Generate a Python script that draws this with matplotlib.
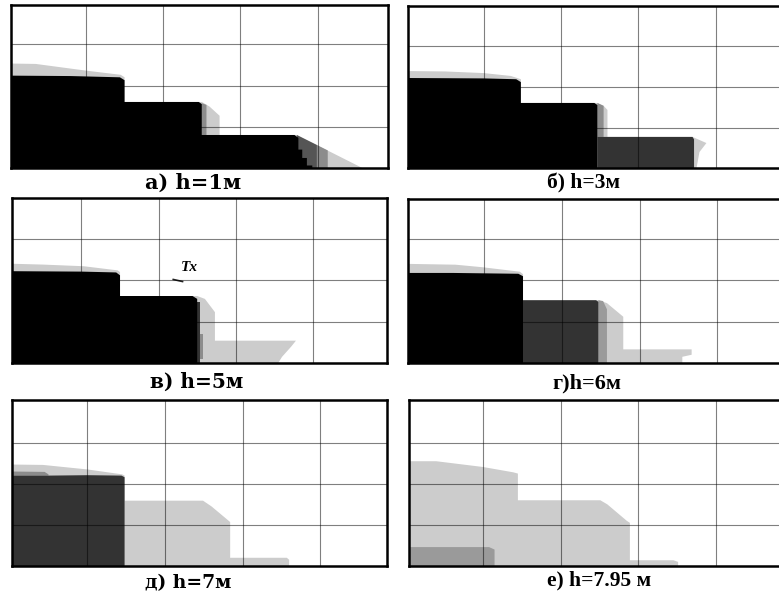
import matplotlib
matplotlib.use("Agg")
import matplotlib.pyplot as plt

# panel captions
LABELS = ["а) h=1м", "б) h=3м", "в) h=5м", "г)h=6м", "д) h=7м", "е) h=7.95 м"]

# coverage zones, outline points in grid cells (x = column, y = row)
# --- a) h=1m
A_LIGHT = [(0, 0), (0, 2.53), (0.35, 2.52), (1.0, 2.36), (1.45, 2.26), (1.5, 2.2),
           (1.5, 1.61), (2.5, 1.61), (2.6, 1.5), (2.73, 1.28), (2.73, 0.82),
           (3.73, 0.82), (4.61, 0)]
A_DARK = [(3.73, 0), (3.73, 0.82), (3.99, 0.58), (3.99, 0)]
A_MID = [(3.99, 0), (3.99, 0.58), (4.13, 0.45), (4.13, 0)]
A_STRIP = [(2.5, 0.82), (2.5, 1.58), (2.56, 1.54), (2.56, 0.82)]
A_BLACK = [(0, 0), (0, 2.24), (0.8, 2.23), (1.44, 2.2), (1.5, 2.13), (1.5, 1.61),
           (2.46, 1.61), (2.5, 1.56), (2.5, 0.82), (3.7, 0.82), (3.75, 0.75),
           (3.75, 0.47), (3.8, 0.47), (3.8, 0.27), (3.86, 0.27), (3.86, 0.09),
           (3.93, 0.09), (3.93, 0)]

# --- б) h=3m
B_LIGHT = [(0, 0), (0, 2.39), (0.5, 2.38), (1.0, 2.34), (1.35, 2.27), (1.48, 2.19),
           (1.48, 1.61), (2.47, 1.61), (2.55, 1.54), (2.6, 1.44), (2.6, 0.78),
           (3.7, 0.78), (3.88, 0.63), (3.79, 0.41), (3.75, 0)]
B_STRIP = [(2.47, 0.78), (2.47, 1.61), (2.55, 1.54), (2.55, 0.78)]
B_DARK = [(2.47, 0), (2.47, 0.78), (3.7, 0.78), (3.72, 0.72), (3.72, 0)]
B_BLACK = [(0, 0), (0, 2.22), (1.0, 2.21), (1.42, 2.19), (1.48, 2.12),
           (1.48, 1.61), (2.43, 1.61), (2.47, 1.56), (2.47, 0)]

# --- в) h=5m
C_LIGHT = [(0.1, 0), (0.1, 2.4), (0.5, 2.38), (1.03, 2.34), (1.47, 2.24), (1.5, 2.2),
           (1.5, 1.62), (2.5, 1.62), (2.6, 1.55), (2.73, 1.23), (2.73, 0.54),
           (3.78, 0.54), (3.72, 0.4), (3.6, 0.15), (3.55, 0)]
C_DARK = [(2.47, 0), (2.47, 1.47), (2.54, 1.47), (2.54, 0)]
C_MID = [(2.54, 0.1), (2.54, 0.7), (2.58, 0.7), (2.58, 0.1)]
C_BLACK = [(0.1, 0), (0.1, 2.22), (1.0, 2.21), (1.45, 2.19), (1.5, 2.12),
           (1.5, 1.62), (2.44, 1.62), (2.5, 1.55), (2.5, 0)]
TX_POS = (2.4, 2.31)
TX_MARK_X = [2.19, 2.31]
TX_MARK_Y = [2.02, 1.97]

# --- г) h=6m
D_LIGHT = [(0, 0), (0, 2.4), (0.63, 2.38), (0.97, 2.32), (1.46, 2.21), (1.5, 2.15),
           (1.5, 1.52), (2.47, 1.52), (2.58, 1.45), (2.79, 1.12), (2.79, 0.33),
           (3.67, 0.33), (3.67, 0.2), (3.55, 0.15), (3.55, 0)]
D_MID = [(2.47, 0), (2.47, 1.52), (2.53, 1.5), (2.58, 1.3), (2.58, 0)]
D_DARK = [(1.5, 0), (1.5, 1.52), (2.44, 1.52), (2.47, 1.48), (2.47, 0)]
D_BLACK = [(0, 0), (0, 2.18), (0.6, 2.18), (1.44, 2.16), (1.5, 2.1), (1.5, 0)]

# --- д) h=7m
E_LIGHT = [(0, 0), (0, 2.47), (0.43, 2.46), (1.0, 2.35), (1.45, 2.23), (1.48, 2.2),
           (1.48, 1.59), (2.49, 1.59), (2.6, 1.45), (2.84, 1.07), (2.84, 0.2),
           (3.57, 0.2), (3.6, 0.15), (3.6, 0)]
E_CAPMID = [(0, 2.2), (0, 2.3), (0.45, 2.29), (0.5, 2.23), (0.5, 2.2)]
E_DARK = [(0, 0), (0, 2.2), (0.5, 2.2), (1.0, 2.21), (1.44, 2.2), (1.48, 2.16),
          (1.48, 0)]

# --- е) h=7.95m
F_LIGHT = [(0, 0), (0, 2.55), (0.4, 2.55), (1.0, 2.41), (1.39, 2.28), (1.45, 2.25),
           (1.45, 1.6), (2.51, 1.6), (2.6, 1.5), (2.85, 1.1), (2.89, 1.05),
           (2.89, 0.14), (3.45, 0.14), (3.51, 0.1), (3.51, 0)]
F_MID = [(0, 0), (0, 0.46), (1.08, 0.46), (1.15, 0.4), (1.15, 0)]

BLACK = "#000000"
DARK = "#333333"
DARK2 = "#555555"
MID = "#8c8c8c"
MID2 = "#9a9a9a"
LIGHT = "#cccccc"

W, H = 779, 594

# pixel box (left, top, right, bottom), x-limits, y-limits, layers
panels = [
    ((11, 5, 388, 168), (0.03, 4.91), (0.03, 3.93),
     [(A_LIGHT, LIGHT), (A_STRIP, MID), (A_DARK, DARK2), (A_MID, MID), (A_BLACK, BLACK)]),
    ((408, 6, 793, 168), (0.02, 5.0), (0.02, 3.98),
     [(B_LIGHT, LIGHT), (B_STRIP, MID), (B_DARK, DARK), (B_BLACK, BLACK)]),
    ((12, 198, 387, 363), (0.1, 4.96), (0.0, 3.99),
     [(C_LIGHT, LIGHT), (C_DARK, DARK), (C_MID, MID), (C_BLACK, BLACK)]),
    ((408, 199, 795, 363), (0.02, 5.0), (0.0, 3.97),
     [(D_LIGHT, LIGHT), (D_MID, MID2), (D_DARK, DARK), (D_BLACK, BLACK)]),
    ((12, 400, 387, 566), (0.03, 4.86), (0.0, 4.04),
     [(E_LIGHT, LIGHT), (E_CAPMID, MID), (E_DARK, DARK)]),
    ((409, 400, 794, 566), (0.05, 5.0), (0.0, 4.04),
     [(F_LIGHT, LIGHT), (F_MID, MID2)]),
]

# caption centre x, baseline y (pixels), font
captions = [
    (193, 189, "DejaVu Serif", 15),
    (584, 188, "Liberation Serif", 15.5),
    (197, 388, "DejaVu Serif", 14.5),
    (587, 388, "Liberation Serif", 16),
    (188, 588, "DejaVu Serif", 13.5),
    (599, 585, "Liberation Serif", 15.5),
]

fig = plt.figure(figsize=(W / 100, H / 100), dpi=100)
fig.patch.set_facecolor("white")

axes = []
for (l, t, r, b), xlim, ylim, layers in panels:
    ax = fig.add_axes([l / W, 1 - b / H, (r - l) / W, (b - t) / H])
    for pts, col in layers:
        xs = [p[0] for p in pts]
        ys = [p[1] for p in pts]
        ax.fill(xs, ys, color=col, lw=0)
    ax.set_xlim(*xlim)
    ax.set_ylim(*ylim)
    ax.set_xticks([1, 2, 3, 4])
    ax.set_yticks([1, 2, 3])
    ax.tick_params(length=0, labelbottom=False, labelleft=False)
    ax.grid(True, color="black", alpha=0.5, lw=0.8)
    ax.set_axisbelow(False)
    for s in ax.spines.values():
        s.set_linewidth(1.8)
        s.set_color("black")
    axes.append(ax)

# transmitter mark in panel в
axes[2].plot(TX_MARK_X, TX_MARK_Y, color="#222222", lw=1.2)
axes[2].text(TX_POS[0], TX_POS[1], "Tx", ha="center", va="center",
             fontfamily="Liberation Serif", fontstyle="italic",
             fontweight="bold", fontsize=11)

for (cx, by, fam, fs), lab in zip(captions, LABELS):
    fig.text(cx / W, 1 - by / H, lab, ha="center", va="baseline",
             fontfamily=fam, fontweight="bold", fontsize=fs)

fig.savefig("out.png", dpi=100)
